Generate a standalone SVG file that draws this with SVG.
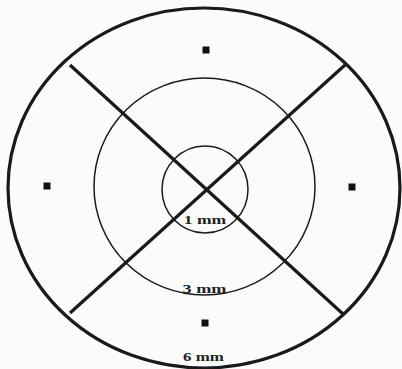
<svg xmlns="http://www.w3.org/2000/svg" width="402" height="369" viewBox="0 0 402 369">
<style>
.thick{fill:none;stroke:#1a1a1a;stroke-width:3.2}
.thin{fill:none;stroke:#1a1a1a;stroke-width:1.5}
.dot{fill:#111}
.lbl{font-family:"Liberation Serif","DejaVu Serif",serif;font-size:13px;font-weight:bold;fill:#222;text-anchor:middle}
</style>
<rect width="402" height="369" fill="#fbfbfb"/>
<g id="outer"><ellipse class="thick" cx="204" cy="188" rx="196" ry="180"/></g>
<g id="middle"><ellipse class="thin" cx="204.5" cy="186.5" rx="110.5" ry="108.5"/></g>
<g id="inner"><ellipse class="thin" cx="205" cy="189.5" rx="43" ry="43.5"/></g>
<g id="connectors">
<line class="thick" x1="70" y1="65" x2="343" y2="314"/>
<line class="thick" x1="345" y1="65" x2="70" y2="313"/>
</g>
<g id="dots">
<rect class="dot" x="202.5" y="46.5" width="7" height="7"/>
<rect class="dot" x="43.5" y="182.5" width="7" height="7"/>
<rect class="dot" x="348.5" y="183.5" width="7" height="7"/>
<rect class="dot" x="201.5" y="319.5" width="7" height="7"/>
</g>
<g id="labels">
<text class="lbl" transform="translate(205,224) scale(1.35,1)">1 mm</text>
<text class="lbl" transform="translate(204.5,293) scale(1.4,1)">3 mm</text>
<text class="lbl" transform="translate(203.5,361) scale(1.3,1)">6 mm</text>
</g>
</svg>
